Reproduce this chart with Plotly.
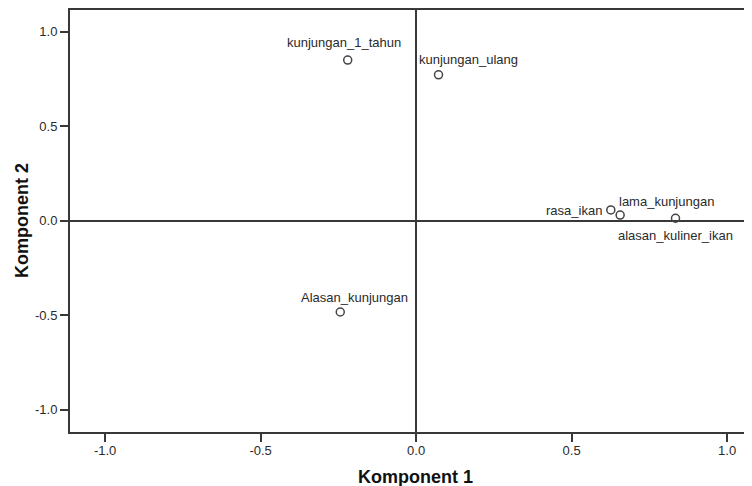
import plotly.graph_objects as go

variables = ["kunjungan_1_tahun", "kunjungan_ulang", "rasa_ikan", "lama_kunjungan",
             "alasan_kuliner_ikan", "Alasan_kunjungan"]
komponent_1 = [-0.220, 0.072, 0.626, 0.656, 0.834, -0.244]
komponent_2 = [0.849, 0.771, 0.056, 0.029, 0.012, -0.484]
tick_values = [-1.0, -0.5, 0.0, 0.5, 1.0]
tick_labels = ["-1.0", "-0.5", "0.0", "0.5", "1.0"]

# label placement (pixel offsets / anchors) per point
label_style = [
    dict(xshift=-4, yshift=18, xanchor="center"),
    dict(xshift=-22, yshift=15, xanchor="left"),
    dict(xshift=-7, yshift=-1, xanchor="right"),
    dict(xshift=-3, yshift=14, xanchor="left"),
    dict(xshift=0, yshift=-17, xanchor="center"),
    dict(xshift=14, yshift=15, xanchor="center"),
]

FONT = "Liberation Sans, Arial, sans-serif"
LINE = "#383838"
TXT = "#2a2a2a"

fig = go.Figure()
fig.add_trace(go.Scatter(
    x=komponent_1, y=komponent_2, mode="markers",
    marker=dict(symbol="circle-open", size=8, color="#444444", line=dict(width=1.5)),
    hoverinfo="text", text=variables, showlegend=False,
))

for v, xv, yv, st in zip(variables, komponent_1, komponent_2, label_style):
    fig.add_annotation(x=xv, y=yv, text=v, showarrow=False, yanchor="middle",
                       font=dict(family=FONT, size=13, color=TXT), **st)

# axis titles
fig.add_annotation(xref="paper", yref="paper", x=0.507, y=-0.1066, text="<b>Komponent 1</b>",
                   showarrow=False, xanchor="center", yanchor="middle",
                   font=dict(family=FONT, size=18, color="#111111"))
fig.add_annotation(xref="paper", yref="paper", x=-0.0711, y=0.501, text="<b>Komponent 2</b>",
                   showarrow=False, xanchor="center", yanchor="middle", textangle=-90,
                   font=dict(family=FONT, size=18, color="#111111"))

# page body has an 8px default margin, so the figure is sized to fill the rest
fig.update_layout(
    width=744, height=478,
    margin=dict(l=62, r=0, t=2, b=54),
    paper_bgcolor="white", plot_bgcolor="white",
    font=dict(family=FONT, color=TXT),
    xaxis=dict(
        range=[-1.113, 1.080], tickvals=tick_values, ticktext=tick_labels,
        automargin=False,
        showgrid=False, zeroline=True, zerolinecolor=LINE, zerolinewidth=1.6,
        showline=True, linecolor=LINE, linewidth=2, mirror=True,
        ticks="outside", ticklen=8, tickcolor=LINE, tickwidth=1.6,
        ticklabelstandoff=-3,
        tickfont=dict(family=FONT, size=13, color=TXT),
    ),
    yaxis=dict(
        range=[-1.119, 1.114], tickvals=tick_values, ticktext=tick_labels,
        automargin=False,
        showgrid=False, zeroline=True, zerolinecolor=LINE, zerolinewidth=1.6,
        showline=True, linecolor=LINE, linewidth=2, mirror=False,
        ticks="outside", ticklen=8, tickcolor=LINE, tickwidth=1.6,
        tickfont=dict(family=FONT, size=13, color=TXT),
    ),
)

fig.write_html("out.html")
